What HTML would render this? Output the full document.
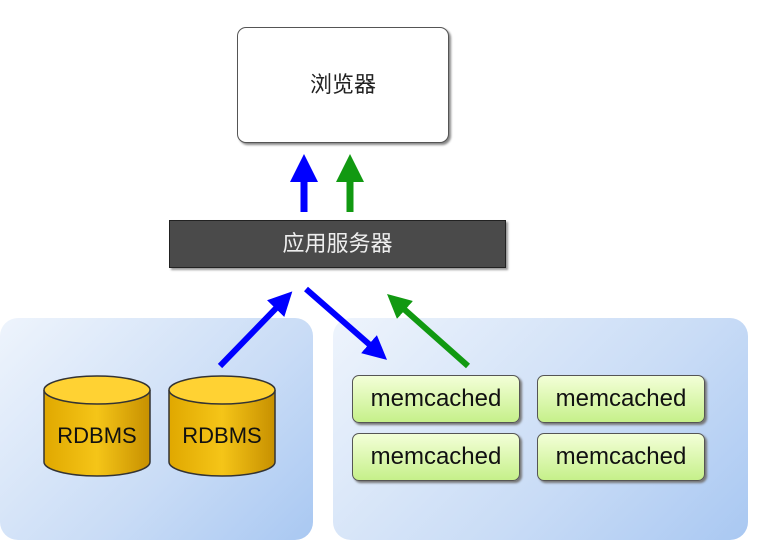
<!DOCTYPE html>
<html><head><meta charset="utf-8"><style>
body{margin:0;width:774px;height:558px;background:#fff;position:relative;overflow:hidden;font-family:"Liberation Sans","Noto Sans CJK SC",sans-serif}
.panel{position:absolute;border-radius:18px;background:linear-gradient(135deg,#eef4fc 0%,#c9dcf6 60%,#a9c8f2 100%)}
.box{position:absolute;box-sizing:border-box}
.mc{position:absolute;width:168px;height:48px;box-sizing:border-box;border:1.5px solid #555;border-radius:7px;background:linear-gradient(#f3ffd8,#c6f08a);box-shadow:2px 2px 2px #777;font-size:24px;color:#111;text-align:center;line-height:46px}
</style></head><body>
<div class="panel" style="left:0;top:318px;width:313px;height:222px"></div>
<div class="panel" style="left:333px;top:318px;width:415px;height:222px"></div>
<div class="box" style="left:237px;top:27px;width:212px;height:116px;border:1.5px solid #555;border-radius:9px;background:#fff;box-shadow:2px 2px 2px #888;text-align:center;line-height:114px;font-size:22px;color:#222">浏览器</div>
<div class="box" style="left:169px;top:220px;width:337px;height:48px;border:1.5px solid #222;background:#4a4a4a;box-shadow:2px 2px 2px #999;text-align:center;line-height:46px;font-size:22px;color:#eee">应用服务器</div>
<svg width="774" height="558" style="position:absolute;left:0;top:0">
<defs>
<marker id="b" markerWidth="4" markerHeight="4" refX="2" refY="2" orient="auto" markerUnits="strokeWidth"><path d="M0,0L4,2L0,4z" fill="#0000ff"/></marker>
<marker id="g" markerWidth="4" markerHeight="4" refX="2" refY="2" orient="auto" markerUnits="strokeWidth"><path d="M0,0L4,2L0,4z" fill="#119911"/></marker>
<linearGradient id="y" x1="0" x2="1"><stop offset="0" stop-color="#e0a800"/><stop offset=".5" stop-color="#f5c518"/><stop offset="1" stop-color="#c79000"/></linearGradient>
</defs>
<line x1="304" y1="212" x2="304" y2="168" stroke="#0000ff" stroke-width="7" marker-end="url(#b)"/>
<line x1="350" y1="212" x2="350" y2="168" stroke="#119911" stroke-width="7" marker-end="url(#g)"/>
<line x1="220" y1="366" x2="284" y2="300" stroke="#0000ff" stroke-width="6" marker-end="url(#b)"/>
<line x1="306" y1="289" x2="378" y2="352" stroke="#0000ff" stroke-width="6" marker-end="url(#b)"/>
<line x1="468" y1="366" x2="396" y2="302" stroke="#119911" stroke-width="6" marker-end="url(#g)"/>
<g stroke="#333" stroke-width="1.5">
<path d="M44,390 v72 a53,14 0 0 0 106,0 v-72" fill="url(#y)"/>
<ellipse cx="97" cy="390" rx="53" ry="14" fill="#ffd233"/>
<path d="M169,390 v72 a53,14 0 0 0 106,0 v-72" fill="url(#y)"/>
<ellipse cx="222" cy="390" rx="53" ry="14" fill="#ffd233"/>
</g>
<text x="97" y="443" font-size="22" text-anchor="middle" fill="#111" font-family="Liberation Sans">RDBMS</text>
<text x="222" y="443" font-size="22" text-anchor="middle" fill="#111" font-family="Liberation Sans">RDBMS</text>
</svg>
<div class="mc" style="left:352px;top:375px">memcached</div>
<div class="mc" style="left:537px;top:375px">memcached</div>
<div class="mc" style="left:352px;top:433px">memcached</div>
<div class="mc" style="left:537px;top:433px">memcached</div>
</body></html>
